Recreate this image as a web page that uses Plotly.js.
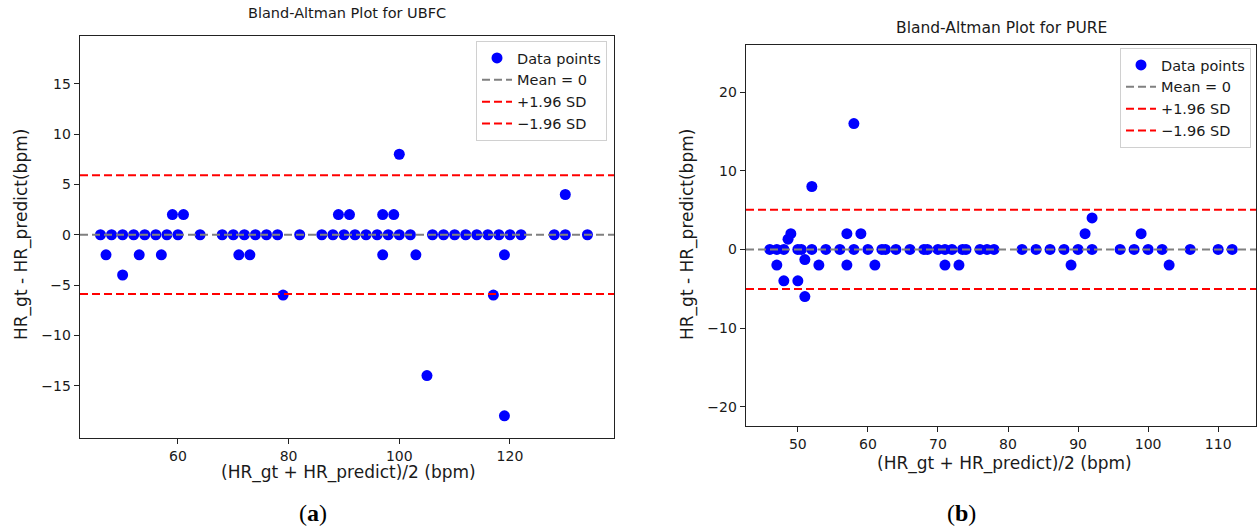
<!DOCTYPE html>
<html>
<head>
<meta charset="utf-8">
<script src="https://cdn.plot.ly/plotly-3.0.1.min.js"></script>
<style>html,body{margin:0;padding:0;background:#fff;}#chart{width:1258px;height:531px;}</style>
</head>
<body>
<div id="chart"></div>
<script>
// ---- UBFC data: mean HR (x) and difference HR_gt - HR_predict (y)
const ubfcMean = [46,48,50,52,54,56,58,60,64,68,70,72,74,76,78,82,86,88,90,92,94,96,98,100,102,106,108,110,112,114,116,118,120,122,128,130,134,
  59,61,89,91,97,99,100,130,
  47,53,57,71,73,97,103,119,50,79,117,105,119];
const ubfcDiff = [0,0,0,0,0,0,0,0,0,0,0,0,0,0,0,0,0,0,0,0,0,0,0,0,0,0,0,0,0,0,0,0,0,0,0,0,0,
  2,2,2,2,2,2,8,4,
  -2,-2,-2,-2,-2,-2,-2,-2,-4,-6,-6,-14,-18];
const ubfcLimits = [0, 5.9, -5.9];   // mean, +1.96 SD, -1.96 SD

// ---- PURE data
const pureMean = [46,47,48,50,50.5,52,54,56,58,60,62,62.5,64,66,68,68.5,70,71,72,73.5,74,76,77,78,82,84,86,88,90,92,96,98,100,102,106,110,112,
  58,52,92,49,57,59,91,99,48.6,
  51,47,53,57,61,71,73,89,103,48,50,51];
const pureDiff = [0,0,0,0,0,0,0,0,0,0,0,0,0,0,0,0,0,0,0,0,0,0,0,0,0,0,0,0,0,0,0,0,0,0,0,0,0,
  16,8,4,2,2,2,2,2,1.3,
  -1.3,-2,-2,-2,-2,-2,-2,-2,-2,-4,-4,-6];
const pureLimits = [0, 5.05, -5.05];

const limitNames = ['Mean = 0', '+1.96 SD', '\u22121.96 SD'];
const limitColors = ['#808080', '#ff0000', '#ff0000'];

const ubfcXRange = [42.3, 138.8], ubfcYRange = [-20.15, 19.75];
const pureXRange = [42.6, 115.4], pureYRange = [-22.4, 26.0];

const FONT = 'DejaVu Sans, sans-serif';
const traces = [];
function addPlot(xs, ys, lims, xr, xa, ya, leg) {
  traces.push({type:'scatter', mode:'markers', x:xs, y:ys, xaxis:xa, yaxis:ya, legend:leg,
    name:'Data points', marker:{color:'#0000ff', size:11}, showlegend:true, cliponaxis:true});
  lims.forEach((v,i)=>{
    traces.push({type:'scatter', mode:'lines', x:[xr[0], xr[1]], y:[v, v], xaxis:xa, yaxis:ya, legend:leg,
      name:limitNames[i], line:{color:limitColors[i], width:2, dash:'8px,4px'}, showlegend:true});
  });
}
addPlot(ubfcMean, ubfcDiff, ubfcLimits, ubfcXRange, 'x', 'y', 'legend');
addPlot(pureMean, pureDiff, pureLimits, pureXRange, 'x2', 'y2', 'legend2');

const W = 1258, H = 531;
const px = v => v / W, py = v => 1 - v / H;

const axisCommon = {showline:true, mirror:true, linecolor:'#222', linewidth:1.3, ticks:'outside', ticklen:5,
  tickcolor:'#222', showgrid:false, zeroline:false, tickfont:{family:FONT, size:14, color:'#1a1a1a'}, fixedrange:true};

const legendCommon = {bgcolor:'rgba(255,255,255,0.9)', bordercolor:'#d0d0d0', borderwidth:1,
  font:{family:FONT, size:14.5, color:'#1a1a1a'}, xanchor:'right', yanchor:'top', tracegroupgap:0, itemwidth:30};

const layout = {
  width: W, height: H, margin:{l:0, r:0, t:0, b:0}, paper_bgcolor:'#fff', plot_bgcolor:'#fff',
  xaxis: Object.assign({}, axisCommon, {domain:[px(80), px(614)], range:ubfcXRange, tickvals:[60,80,100,120], anchor:'y'}),
  yaxis: Object.assign({}, axisCommon, {domain:[py(437.5), py(36)], range:ubfcYRange, tickvals:[-15,-10,-5,0,5,10,15], anchor:'x'}),
  xaxis2: Object.assign({}, axisCommon, {domain:[px(746), px(1256)], range:pureXRange, tickvals:[50,60,70,80,90,100,110], anchor:'y2'}),
  yaxis2: Object.assign({}, axisCommon, {domain:[py(425.5), py(45)], range:pureYRange, tickvals:[-20,-10,0,10,20], anchor:'x2'}),
  legend: Object.assign({}, legendCommon, {x:px(607), y:py(41)}),
  legend2: Object.assign({}, legendCommon, {x:px(1251), y:py(48)}),
  annotations: [
    {text:'Bland-Altman Plot for UBFC', x:px(347), y:py(13), xref:'paper', yref:'paper', showarrow:false, xanchor:'center', yanchor:'middle', font:{family:FONT, size:14.5, color:'#1a1a1a'}},
    {text:'Bland-Altman Plot for PURE', x:px(1001), y:py(28), xref:'paper', yref:'paper', showarrow:false, xanchor:'center', yanchor:'middle', font:{family:FONT, size:15.5, color:'#1a1a1a'}},
    {text:'(HR_gt + HR_predict)/2 (bpm)', x:px(349), y:py(472), xref:'paper', yref:'paper', showarrow:false, xanchor:'center', yanchor:'middle', font:{family:FONT, size:17, color:'#1a1a1a'}},
    {text:'(HR_gt + HR_predict)/2 (bpm)', x:px(1004), y:py(463), xref:'paper', yref:'paper', showarrow:false, xanchor:'center', yanchor:'middle', font:{family:FONT, size:17, color:'#1a1a1a'}},
    {text:'HR_gt - HR_predict(bpm)', x:px(22), y:py(235), xref:'paper', yref:'paper', showarrow:false, textangle:-90, xanchor:'center', yanchor:'middle', font:{family:FONT, size:17, color:'#1a1a1a'}},
    {text:'HR_gt - HR_predict(bpm)', x:px(688), y:py(235), xref:'paper', yref:'paper', showarrow:false, textangle:-90, xanchor:'center', yanchor:'middle', font:{family:FONT, size:17, color:'#1a1a1a'}},
    {text:'(<b>a</b>)', x:px(313), y:py(513), xref:'paper', yref:'paper', showarrow:false, xanchor:'center', yanchor:'middle', font:{family:'Liberation Serif, serif', size:24, color:'#000'}},
    {text:'(<b>b</b>)', x:px(962), y:py(513), xref:'paper', yref:'paper', showarrow:false, xanchor:'center', yanchor:'middle', font:{family:'Liberation Serif, serif', size:24, color:'#000'}}
  ]
};

Plotly.newPlot('chart', traces, layout, {staticPlot:true, displayModeBar:false});
</script>
</body>
</html>
